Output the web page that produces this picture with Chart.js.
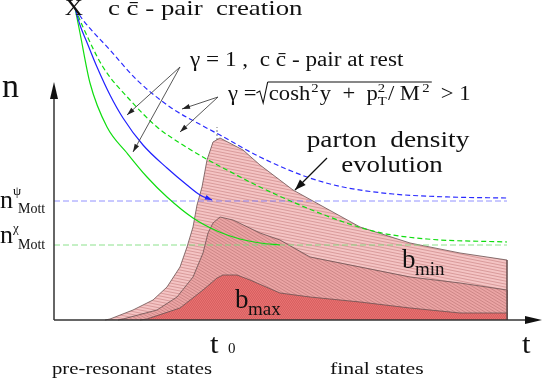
<!DOCTYPE html>
<html>
<head>
<meta charset="utf-8">
<script src="https://cdn.jsdelivr.net/npm/chart.js@4.4.0/dist/chart.umd.min.js"></script>
<style>
  body { margin: 0; background: #fff; }
  canvas { display: block; }
</style>
</head>
<body>
<canvas id="chart" width="545" height="382"></canvas>
<script>
// t and n in arbitrary units, origin at the axis corner
const outerBand = [[51,0],[56,1],[79,10],[99,20],[113,33],[126,53],[133,73],[139,93],[143,115],[148,133],[153,160],[159,178],[166,182],[189,170],[206,155],[239,130],[306,93],[356,77],[406,67],[453,60],[453,0]];
const middleBand = [[64,0],[69,1],[103,10],[123,23],[139,43],[149,67],[154,87],[159,97],[166,103],[179,100],[206,87],[226,80],[256,63],[306,53],[356,43],[406,37],[453,30],[453,0]];
const innerBand = [[86,0],[93,1],[126,12],[149,30],[163,42],[169,45],[183,45],[196,40],[226,27],[256,23],[306,18],[356,12],[406,7],[453,7],[453,0]];

const restPsi = [[21,312],[26,295],[34,275],[43,253],[56,225],[69,202],[89,175],[113,152],[133,135],[146,125],[158,120]];
const restChi = [[21,312],[26,287],[36,237],[53,193],[73,167],[93,143],[113,123],[139,102],[163,89],[186,81],[206,77],[226,75]];
const movingPsi = [[21,312],[29,300],[56,270],[83,240],[116,213],[149,194],[166,185],[206,163],[253,143],[289,133],[339,126],[396,123],[453,122]];
const movingChi = [[21,312],[29,293],[49,253],[76,220],[103,193],[129,175],[156,159],[173,150],[206,133],[273,104],[323,88],[373,81],[453,78]];

const nMottPsi = 119;
const nMottChi = 75;
const t0 = 163;
const tEnd = 453;

function pts(arr) { return arr.map(p => ({x: p[0], y: p[1]})); }

function hatch(bg, line, w, h, up) {
    const c = document.createElement('canvas');
    c.width = w; c.height = h;
    const g = c.getContext('2d');
    g.fillStyle = bg; g.fillRect(0, 0, w, h);
    g.strokeStyle = line; g.lineWidth = 0.9;
    for (let k = -1; k <= 1; k++) {
        g.beginPath();
        if (up) { g.moveTo(-1, h + k*h + h/w); g.lineTo(w+1, k*h - h/w); }
        else { g.moveTo(-1, k*h - h/w); g.lineTo(w+1, h + k*h + h/w); }
        g.stroke();
    }
    return g.createPattern(c, 'repeat');
}

const ctx0 = document.getElementById('chart').getContext('2d');
const outerFill = hatch('#f4c4c4', '#d69696', 15, 3, false);
const middleFill = hatch('#eba4a4', '#c98282', 5, 3, false);
const innerFill = hatch('#f07676', '#cc5a5a', 2, 3, true);

function band(data, fill, order) {
    return { data: pts(data), showLine: true, fill: 'origin', backgroundColor: fill,
             borderColor: '#6a5050', borderWidth: 0.8, pointRadius: 0, tension: 0, order: order };
}
function curve(data, color, dash, order) {
    return { data: pts(data), showLine: true, fill: false, borderColor: color, borderWidth: 1.2,
             borderDash: dash, pointRadius: 0, cubicInterpolationMode: 'monotone', order: order };
}
function flat(n, color) {
    return { data: [{x: 0, y: n}, {x: tEnd, y: n}], showLine: true, fill: false, borderColor: color,
             borderWidth: 1, borderDash: [6, 3], pointRadius: 0, order: 0 };
}

const serif = '"Liberation Serif", "DejaVu Serif", serif';

function arrowHead(g, x1, y1, x2, y2, len, wid, color) {
    const a = Math.atan2(y2 - y1, x2 - x1);
    g.fillStyle = color;
    g.beginPath();
    g.moveTo(x2, y2);
    g.lineTo(x2 - len*Math.cos(a) + wid*Math.sin(a), y2 - len*Math.sin(a) - wid*Math.cos(a));
    g.lineTo(x2 - len*Math.cos(a) - wid*Math.sin(a), y2 - len*Math.sin(a) + wid*Math.cos(a));
    g.closePath();
    g.fill();
}

const decor = {
    id: 'decor',
    beforeDatasetsDraw(chart) {
        const g = chart.ctx, X = chart.scales.x, Y = chart.scales.y;
        const px = v => X.getPixelForValue(v), py = v => Y.getPixelForValue(v);
        g.save();
        // t0 dotted marker
        g.strokeStyle = '#777'; g.lineWidth = 1; g.setLineDash([2, 2]);
        g.beginPath(); g.moveTo(px(t0), py(0)); g.lineTo(px(t0), py(193)); g.stroke();
        g.restore();
    },
    afterDatasetsDraw(chart) {
        const g = chart.ctx, X = chart.scales.x, Y = chart.scales.y;
        const px = v => X.getPixelForValue(v), py = v => Y.getPixelForValue(v);
        g.save();
        // axes
        g.strokeStyle = '#333'; g.lineWidth = 1.5;
        g.beginPath(); g.moveTo(px(0), py(0)); g.lineTo(px(476), py(0)); g.stroke();
        g.beginPath(); g.moveTo(px(0), py(0)); g.lineTo(px(0), py(225)); g.stroke();
        arrowHead(g, px(0), py(0), px(488), py(0), 17, 4, '#111');
        arrowHead(g, px(0), py(0), px(0), py(238), 17, 4, '#111');

        // blue arrow tip at end of rest curve
        const e = restPsi[restPsi.length - 1], f = restPsi[restPsi.length - 2];
        arrowHead(g, px(f[0]), py(f[1]), px(e[0]), py(e[1]), 7, 2.5, '#2020ff');

        // pointer lines
        g.strokeStyle = '#444'; g.lineWidth = 0.9;
        const pointers = [
            [[126, 253], [73, 205]], [[126, 253], [79, 168]],
            [[164, 223], [128, 211]], [[164, 223], [126, 188]]
        ];
        pointers.forEach(p => {
            g.beginPath(); g.moveTo(px(p[0][0]), py(p[0][1])); g.lineTo(px(p[1][0]), py(p[1][1])); g.stroke();
            arrowHead(g, px(p[0][0]), py(p[0][1]), px(p[1][0]), py(p[1][1]), 8, 2.5, '#222');
        });
        g.strokeStyle = '#111'; g.lineWidth = 1.2;
        g.beginPath(); g.moveTo(px(273), py(162)); g.lineTo(px(241), py(130)); g.stroke();
        arrowHead(g, px(273), py(162), px(241), py(130), 11, 4, '#111');

        // texts (the original lettering is stretched sideways)
        g.fillStyle = '#111'; g.textBaseline = 'alphabetic';
        const txt = (s, t, n, size, align, sx) => {
            g.save();
            g.font = size + 'px ' + serif; g.textAlign = align || 'left';
            g.translate(px(t), py(n)); g.scale(sx || 1, 1);
            g.fillText(s, 0, 0);
            g.restore();
        };
        txt('X', 20, 305, 23, 'center', 1.1);
        txt('c c\u0304 - pair  creation', 54, 305, 22, 'left', 1.22);
        txt('\u03b3 = 1 ,  c c\u0304 - pair at rest', 136, 254, 20, 'left', 1.16);

        // gamma formula with square root
        g.save();
        g.translate(px(174), py(220)); g.scale(1.13, 1);
        g.font = '20px ' + serif; g.textAlign = 'left';
        let x = 0; const yb = 0;
        g.fillText('\u03b3 =', x, yb); x += g.measureText('\u03b3 =').width + 1;
        const rootX = x;
        g.lineWidth = 1; g.strokeStyle = '#111';
        g.beginPath(); g.moveTo(rootX - 1, yb - 7); g.lineTo(rootX + 2, yb - 9); g.lineTo(rootX + 5, yb + 3);
        g.lineTo(rootX + 9, yb - 18); g.stroke();
        x = rootX + 10;
        g.fillText('cosh', x, yb); x += g.measureText('cosh').width;
        g.font = '13px ' + serif; g.fillText('2', x + 1, yb - 8); x += g.measureText('2').width + 2;
        g.font = '20px ' + serif; g.fillText('y  +  p', x, yb); x += g.measureText('y  +  p').width;
        g.font = '13px ' + serif; g.fillText('2', x, yb - 8); g.fillText('T', x, yb + 5); x += g.measureText('T').width + 1;
        g.font = '20px ' + serif; g.fillText('/ M', x, yb); x += g.measureText('/ M').width;
        g.font = '13px ' + serif; g.fillText('2', x + 2, yb - 8); x += g.measureText('2').width + 4;
        g.beginPath(); g.moveTo(rootX + 9, yb - 18); g.lineTo(x, yb - 18); g.stroke();
        g.font = '20px ' + serif; g.fillText('> 1', x + 8, yb);
        g.restore();

        txt('parton  density', 334, 173, 24, 'center', 1.14);
        txt('evolution', 338, 148, 24, 'center', 1.12);

        txt('n', -52, 223, 34);
        txt('n', -54, 112, 26); txt('\u03c8', -41, 125, 13); txt('Mott', -36, 107, 14);
        txt('n', -54, 77, 26); txt('\u03c7', -41, 88, 13); txt('Mott', -36, 71, 14);

        txt('b', 348, 52, 27); txt('min', 361, 45, 19);
        txt('b', 181, 12, 27); txt('max', 194, 5, 19);

        txt('t', 156, -33, 28, 'left', 1.1); txt('0', 174, -33, 15);
        txt('t', 468, -33, 28, 'left', 1.1);
        txt('pre-resonant  states', -2, -54, 17, 'left', 1.22);
        txt('final states', 276, -54, 17, 'left', 1.28);
        g.restore();
    }
};

new Chart(ctx0, {
    type: 'scatter',
    data: {
        datasets: [
            curve(restPsi, '#2020ff', [], 0),
            curve(restChi, '#10dd10', [], 0),
            curve(movingPsi, '#2a2aff', [5, 3], 0),
            curve(movingChi, '#10dd10', [5, 3], 0),
            flat(nMottPsi, 'rgba(110,110,255,0.75)'),
            flat(nMottChi, 'rgba(120,220,120,0.85)'),
            band(innerBand, innerFill, 1),
            band(middleBand, middleFill, 2),
            band(outerBand, outerFill, 3)
        ]
    },
    options: {
        responsive: false,
        animation: false,
        layout: { padding: 0 },
        plugins: { legend: { display: false }, tooltip: { enabled: false } },
        scales: {
            x: { type: 'linear', min: -54, max: 491, display: false },
            y: { type: 'linear', min: -62, max: 320, display: false }
        }
    },
    plugins: [decor]
});
</script>
</body>
</html>
